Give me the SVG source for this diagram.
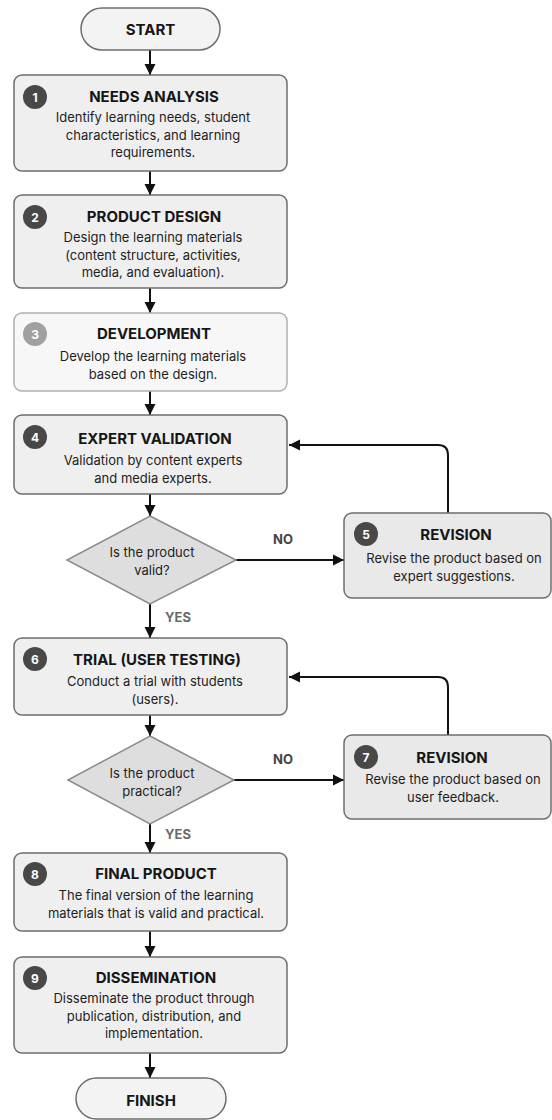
<svg xmlns="http://www.w3.org/2000/svg" width="552" height="1120" viewBox="0 0 552 1120">
<defs>
<marker id="ah" markerUnits="userSpaceOnUse" markerWidth="12" markerHeight="12" viewBox="0 0 12 12" refX="11" refY="6" orient="auto">
<path d="M0,0.5 L11,6 L0,11.5 Z" fill="#111"/>
</marker>
</defs>
<style>
text{font-family:Inter,"Noto Sans","Liberation Sans",sans-serif;}
.box{fill:#efefef;stroke:#6e6e6e;stroke-width:1.5;}
.box.light{fill:#f7f7f7;stroke:#b0b0b0;}
.box.rev{fill:#e9e9e9;}
.pill{fill:#f3f3f3;stroke:#6e6e6e;stroke-width:1.5;}
.dia{fill:#dedede;stroke:#8a8a8a;stroke-width:1.5;}
.ttl{font-size:15px;font-weight:700;fill:#161616;text-anchor:middle;}
.dsc{font-size:13px;fill:#1e1e1e;text-anchor:middle;}
.num{fill:#484848;}
.num.light{fill:#a0a0a0;}
.nt{font-size:12px;font-weight:700;fill:#fff;text-anchor:middle;}
.q{font-size:13px;fill:#222;text-anchor:middle;}
.no{font-size:13px;font-weight:700;fill:#444;}
.yes{font-size:13px;font-weight:700;fill:#6a6a6a;}
.c{fill:none;stroke:#111;stroke-width:2;marker-end:url(#ah);}
</style>

<g id="connectors">
<line class="c" x1="150" y1="50" x2="150" y2="75"/>
<line class="c" x1="150" y1="171" x2="150" y2="195"/>
<line class="c" x1="150" y1="288" x2="150" y2="313"/>
<line class="c" x1="150" y1="391" x2="150" y2="415"/>
<line class="c" x1="150" y1="494" x2="150" y2="516"/>
<line class="c" x1="150" y1="604" x2="150" y2="638"/>
<line class="c" x1="236" y1="560" x2="344" y2="560"/>
<path class="c" d="M448,513 V455 Q448,445 438,445 H289"/>
<line class="c" x1="150" y1="715" x2="150" y2="736"/>
<line class="c" x1="150" y1="824" x2="150" y2="853"/>
<line class="c" x1="234" y1="780" x2="344" y2="780"/>
<path class="c" d="M448,735 V687 Q448,677 438,677 H289"/>
<line class="c" x1="150" y1="931" x2="150" y2="957"/>
<line class="c" x1="150" y1="1053" x2="150" y2="1078"/>
<text class="yes" x="165" y="622">YES</text>
<text class="no" x="273" y="544">NO</text>
<text class="yes" x="165" y="839">YES</text>
<text class="no" x="273" y="764">NO</text>
</g>

<g id="start">
<rect class="pill" x="81" y="8" width="139" height="42" rx="21"/>
<text class="ttl" x="150.5" y="34.5">START</text>
</g>

<g id="n1">
<rect class="box" x="14" y="75" width="273" height="96" rx="8"/>
<circle class="num" cx="35" cy="97" r="12"/>
<text class="nt" x="35" y="101.5">1</text>
<text class="ttl" x="154" y="102">NEEDS ANALYSIS</text>
<text class="dsc" x="153" y="122">Identify learning needs, student</text>
<text class="dsc" x="153" y="139.5">characteristics, and learning</text>
<text class="dsc" x="153" y="157">requirements.</text>
</g>

<g id="n2">
<rect class="box" x="14" y="195" width="273" height="93" rx="8"/>
<circle class="num" cx="35" cy="217" r="12"/>
<text class="nt" x="35" y="221.5">2</text>
<text class="ttl" x="154" y="221.5">PRODUCT DESIGN</text>
<text class="dsc" x="153" y="242">Design the learning materials</text>
<text class="dsc" x="153" y="259.5">(content structure, activities,</text>
<text class="dsc" x="153" y="277">media, and evaluation).</text>
</g>

<g id="n3">
<rect class="box light" x="14" y="313" width="273" height="78" rx="8"/>
<circle class="num light" cx="35" cy="334" r="12"/>
<text class="nt" x="35" y="338.5">3</text>
<text class="ttl" x="154" y="339">DEVELOPMENT</text>
<text class="dsc" x="153" y="361">Develop the learning materials</text>
<text class="dsc" x="153" y="378.5">based on the design.</text>
</g>

<g id="n4">
<rect class="box" x="14" y="415" width="273" height="79" rx="8"/>
<circle class="num" cx="35" cy="437" r="12"/>
<text class="nt" x="35" y="441.5">4</text>
<text class="ttl" x="155" y="444">EXPERT VALIDATION</text>
<text class="dsc" x="153" y="465">Validation by content experts</text>
<text class="dsc" x="153" y="482.5">and media experts.</text>
</g>

<g id="d1">
<polygon class="dia" points="150,516 236,560 150,604 67,560"/>
<text class="q" x="152" y="557">Is the product</text>
<text class="q" x="152" y="574.5">valid?</text>
</g>

<g id="n5">
<rect class="box rev" x="344" y="513" width="207" height="85" rx="8"/>
<circle class="num" cx="366" cy="534" r="12"/>
<text class="nt" x="366" y="538.5">5</text>
<text class="ttl" x="456" y="540">REVISION</text>
<text class="dsc" x="454" y="563">Revise the product based on</text>
<text class="dsc" x="454" y="580.5">expert suggestions.</text>
</g>

<g id="n6">
<rect class="box" x="14" y="638" width="273" height="77" rx="8"/>
<circle class="num" cx="35" cy="659" r="12"/>
<text class="nt" x="35" y="663.5">6</text>
<text class="ttl" x="157" y="665">TRIAL (USER TESTING)</text>
<text class="dsc" x="155" y="686">Conduct a trial with students</text>
<text class="dsc" x="155" y="703.5">(users).</text>
</g>

<g id="d2">
<polygon class="dia" points="150,736 234,780 150,824 68,780"/>
<text class="q" x="152" y="778">Is the product</text>
<text class="q" x="152" y="795.5">practical?</text>
</g>

<g id="n7">
<rect class="box rev" x="344" y="735" width="207" height="84" rx="8"/>
<circle class="num" cx="366" cy="757" r="12"/>
<text class="nt" x="366" y="761.5">7</text>
<text class="ttl" x="452" y="763">REVISION</text>
<text class="dsc" x="453" y="784">Revise the product based on</text>
<text class="dsc" x="453" y="801.5">user feedback.</text>
</g>

<g id="n8">
<rect class="box" x="14" y="853" width="273" height="78" rx="8"/>
<circle class="num" cx="35" cy="874" r="12"/>
<text class="nt" x="35" y="878.5">8</text>
<text class="ttl" x="156" y="879">FINAL PRODUCT</text>
<text class="dsc" x="156" y="900">The final version of the learning</text>
<text class="dsc" x="156" y="917.5">materials that is valid and practical.</text>
</g>

<g id="n9">
<rect class="box" x="14" y="957" width="273" height="96" rx="8"/>
<circle class="num" cx="35" cy="978" r="12"/>
<text class="nt" x="35" y="982.5">9</text>
<text class="ttl" x="156" y="983">DISSEMINATION</text>
<text class="dsc" x="154" y="1003">Disseminate the product through</text>
<text class="dsc" x="154" y="1020.5">publication, distribution, and</text>
<text class="dsc" x="154" y="1038">implementation.</text>
</g>

<g id="finish">
<rect class="pill" x="76" y="1078" width="150" height="41" rx="20.5"/>
<text class="ttl" x="151" y="1106">FINISH</text>
</g>
</svg>
